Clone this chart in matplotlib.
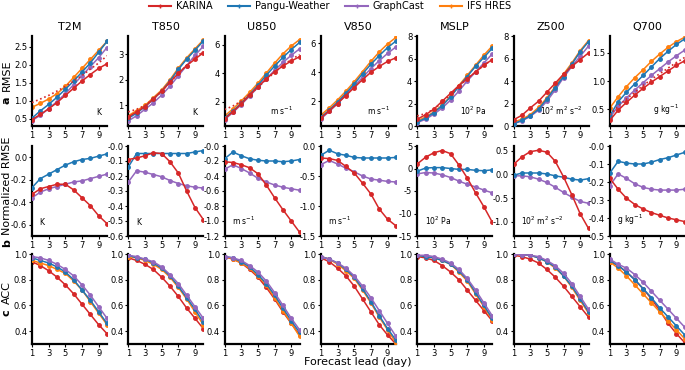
import numpy as np
import matplotlib.pyplot as plt

days = np.arange(1, 11)
variables = ["T2M", "T850", "U850", "V850", "MSLP", "Z500", "Q700"]
units = ["K", "K", "m s$^{-1}$", "m s$^{-1}$", "10$^2$ Pa", "10$^2$ m$^2$ s$^{-2}$", "g kg$^{-1}$"]
models = ["KARINA", "Pangu-Weather", "GraphCast", "IFS HRES"]
colors = {"KARINA": "#d62728", "Pangu-Weather": "#1f77b4", "GraphCast": "#9467bd", "IFS HRES": "#ff7f0e"}

# RMSE, one list per model, one row per variable
rmse_karina = [
    [0.48, 0.62, 0.78, 0.95, 1.15, 1.35, 1.55, 1.73, 1.9, 2.03],
    [0.55, 0.75, 0.95, 1.25, 1.55, 1.9, 2.25, 2.55, 2.8, 3.05],
    [0.8, 1.3, 1.85, 2.45, 3.05, 3.6, 4.1, 4.5, 4.85, 5.15],
    [0.85, 1.35, 1.85, 2.4, 2.95, 3.5, 4.0, 4.4, 4.75, 5.0],
    [0.6, 1.0, 1.5, 2.2, 2.9, 3.6, 4.2, 4.8, 5.4, 5.9],
    [0.55, 0.95, 1.6, 2.2, 3.0, 3.8, 4.6, 5.3, 5.9, 6.5],
    [0.3, 0.48, 0.62, 0.75, 0.87, 0.98, 1.08, 1.18, 1.28, 1.36],
]
rmse_karina_dotted = [
    [0.95, 1.05, 1.15, 1.27, 1.4, 1.55, 1.7, 1.88, 2.05, 2.25],
    [0.75, 0.85, 1.0, 1.25, 1.55, 1.9, 2.25, 2.55, 2.85, 3.1],
    [1.45, 1.7, 2.05, 2.5, 3.0, 3.55, 4.05, 4.55, 4.95, 5.3],
    None,
    [0.9, 1.1, 1.5, 2.1, 2.8, 3.5, 4.2, 4.8, 5.4, 5.9],
    None,
    [0.4, 0.55, 0.68, 0.8, 0.92, 1.03, 1.13, 1.23, 1.33, 1.42],
]
rmse_pangu = [
    [0.52, 0.72, 0.9, 1.1, 1.32, 1.55, 1.8, 2.05, 2.35, 2.65],
    [0.5, 0.7, 0.95, 1.25, 1.55, 1.95, 2.4, 2.8, 3.15, 3.5],
    [0.85, 1.35, 1.9, 2.5, 3.15, 3.85, 4.5, 5.1, 5.65, 6.15],
    [0.9, 1.4, 1.95, 2.55, 3.2, 3.9, 4.55, 5.15, 5.7, 6.15],
    [0.35, 0.7, 1.2, 1.8, 2.6, 3.5, 4.4, 5.3, 6.1, 6.9],
    [0.2, 0.5, 0.9, 1.5, 2.4, 3.4, 4.4, 5.5, 6.6, 7.5],
    [0.38, 0.63, 0.8, 0.95, 1.1, 1.25, 1.4, 1.53, 1.65, 1.75],
]
rmse_graphcast = [
    [0.45, 0.6, 0.78, 0.98, 1.2, 1.45, 1.7, 1.95, 2.2, 2.48],
    [0.4, 0.6, 0.85, 1.1, 1.4, 1.75, 2.15, 2.55, 2.95, 3.3],
    [0.75, 1.25, 1.8, 2.4, 3.0, 3.6, 4.2, 4.75, 5.25, 5.7],
    [0.8, 1.3, 1.85, 2.45, 3.05, 3.65, 4.25, 4.8, 5.3, 5.75],
    [0.3, 0.6, 1.05, 1.6, 2.3, 3.1, 4.0, 4.8, 5.6, 6.4],
    [0.2, 0.45, 0.85, 1.4, 2.2, 3.2, 4.3, 5.3, 6.2, 7.1],
    [0.35, 0.55, 0.7, 0.84, 0.97, 1.1, 1.22, 1.34, 1.45, 1.55],
]
rmse_ifs = [
    [0.82, 0.93, 1.05, 1.2, 1.4, 1.65, 1.9, 2.15, 2.4, 2.65],
    [0.6, 0.8, 1.0, 1.3, 1.6, 2.0, 2.45, 2.85, 3.2, 3.55],
    [1.0, 1.5, 2.05, 2.65, 3.3, 4.0, 4.7, 5.35, 5.9, 6.35],
    [1.05, 1.55, 2.1, 2.7, 3.35, 4.05, 4.75, 5.4, 5.95, 6.4],
    [0.45, 0.8, 1.25, 1.85, 2.65, 3.6, 4.5, 5.4, 6.3, 7.1],
    [0.35, 0.6, 1.0, 1.65, 2.5, 3.5, 4.6, 5.6, 6.7, 7.6],
    [0.52, 0.72, 0.9, 1.06, 1.2, 1.35, 1.48, 1.6, 1.7, 1.78],
]

# normalized RMSE (no IFS HRES)
nrmse_karina = [
    [-0.33, -0.28, -0.26, -0.24, -0.24, -0.29, -0.36, -0.43, -0.52, -0.59],
    [-0.09, -0.08, -0.065, -0.045, -0.05, -0.105, -0.18, -0.3, -0.41, -0.49],
    [-0.21, -0.22, -0.25, -0.29, -0.37, -0.52, -0.69, -0.85, -1.0, -1.15],
    [-0.2, -0.21, -0.24, -0.34, -0.45, -0.62, -0.8, -1.05, -1.22, -1.33],
    [1.0, 2.5, 3.5, 4.0, 3.3, 0.8, -2.1, -5.4, -8.5, -11.9],
    [0.21, 0.37, 0.48, 0.51, 0.47, 0.28, -0.05, -0.43, -0.83, -1.14],
    [-0.18, -0.24, -0.29, -0.325, -0.35, -0.37, -0.385, -0.4, -0.41, -0.42],
]
nrmse_pangu = [
    [-0.27, -0.19, -0.15, -0.11, -0.07, -0.04, -0.02, -0.01, 0.01, 0.03],
    [-0.14, -0.05, -0.05, -0.05, -0.05, -0.05, -0.05, -0.05, -0.04, -0.03],
    [-0.17, -0.08, -0.13, -0.17, -0.19, -0.2, -0.2, -0.21, -0.2, -0.18],
    [-0.155, -0.07, -0.13, -0.155, -0.19, -0.2, -0.2, -0.2, -0.2, -0.19],
    [-0.6, 0.1, 0.2, 0.2, 0.0, -0.2, -0.2, -0.4, -0.5, -0.3],
    [-0.02, 0.03, 0.03, 0.03, 0.01, -0.03, -0.06, -0.1, -0.12, -0.09],
    [-0.15, -0.085, -0.095, -0.1, -0.1, -0.09, -0.075, -0.065, -0.05, -0.035],
]
nrmse_graphcast = [
    [-0.36, -0.31, -0.28, -0.26, -0.24, -0.22, -0.21, -0.19, -0.17, -0.15],
    [-0.24, -0.165, -0.175, -0.19, -0.205, -0.23, -0.25, -0.265, -0.275, -0.28],
    [-0.31, -0.25, -0.3, -0.36, -0.43, -0.48, -0.52, -0.55, -0.57, -0.59],
    [-0.31, -0.24, -0.3, -0.37, -0.43, -0.5, -0.55, -0.57, -0.59, -0.6],
    [-1.2, -0.9, -1.0, -1.4, -2.0, -2.8, -3.5, -4.1, -4.8, -5.4],
    [-0.03, -0.03, -0.05, -0.1, -0.17, -0.27, -0.38, -0.48, -0.57, -0.61],
    [-0.22, -0.155, -0.18, -0.21, -0.23, -0.24, -0.245, -0.245, -0.245, -0.24],
]

# ACC
acc_karina = [
    [0.94, 0.91, 0.87, 0.82, 0.76, 0.69, 0.61, 0.53, 0.45, 0.38],
    [0.97, 0.95, 0.92, 0.88, 0.82, 0.75, 0.67, 0.58, 0.5, 0.42],
    [0.98, 0.96, 0.93, 0.88, 0.82, 0.74, 0.65, 0.55, 0.46, 0.37],
    [0.97, 0.94, 0.89, 0.83, 0.75, 0.65, 0.55, 0.45, 0.37, 0.3],
    [0.98, 0.97, 0.95, 0.91, 0.86, 0.8, 0.72, 0.64, 0.56, 0.48],
    [0.99, 0.98, 0.96, 0.93, 0.88, 0.82, 0.75, 0.67, 0.59, 0.51],
    [0.94, 0.91, 0.86, 0.8, 0.73, 0.65, 0.56, 0.46, 0.38, 0.31],
]
acc_pangu = [
    [0.97, 0.95, 0.93, 0.9, 0.86, 0.8, 0.72, 0.64, 0.55, 0.46],
    [0.99, 0.97, 0.96, 0.93, 0.89, 0.83, 0.75, 0.66, 0.57, 0.47],
    [0.98, 0.97, 0.94, 0.9, 0.84, 0.77, 0.68, 0.58, 0.48, 0.39],
    [0.98, 0.96, 0.93, 0.88, 0.82, 0.73, 0.63, 0.52, 0.42, 0.33],
    [0.99, 0.98, 0.97, 0.95, 0.92, 0.87, 0.8, 0.7, 0.6, 0.5],
    [1.0, 0.995, 0.99, 0.97, 0.94, 0.9, 0.83, 0.75, 0.65, 0.55],
    [0.95, 0.91, 0.86, 0.8, 0.73, 0.66, 0.58, 0.51, 0.44, 0.37],
]
acc_graphcast = [
    [0.98, 0.97, 0.95, 0.92, 0.88, 0.83, 0.76, 0.68, 0.59, 0.5],
    [0.99, 0.98, 0.96, 0.94, 0.9, 0.84, 0.77, 0.68, 0.59, 0.5],
    [0.98, 0.97, 0.95, 0.91, 0.86, 0.79, 0.7, 0.6, 0.5, 0.41],
    [0.98, 0.96, 0.93, 0.89, 0.83, 0.75, 0.66, 0.56, 0.46, 0.36],
    [0.99, 0.99, 0.98, 0.96, 0.93, 0.88, 0.81, 0.72, 0.62, 0.52],
    [1.0, 0.995, 0.99, 0.98, 0.95, 0.91, 0.85, 0.77, 0.67, 0.57],
    [0.96, 0.92, 0.89, 0.84, 0.78, 0.71, 0.64, 0.57, 0.5, 0.43],
]
acc_ifs = [
    [0.95, 0.93, 0.91, 0.88, 0.85, 0.79, 0.72, 0.63, 0.54, 0.45],
    [0.98, 0.97, 0.95, 0.92, 0.88, 0.82, 0.74, 0.65, 0.55, 0.45],
    [0.98, 0.96, 0.93, 0.89, 0.83, 0.76, 0.66, 0.56, 0.46, 0.36],
    [0.98, 0.96, 0.92, 0.87, 0.81, 0.72, 0.62, 0.51, 0.41, 0.31],
    [0.99, 0.98, 0.97, 0.95, 0.92, 0.86, 0.79, 0.69, 0.59, 0.49],
    [1.0, 0.995, 0.99, 0.97, 0.94, 0.89, 0.83, 0.74, 0.64, 0.54],
    [0.94, 0.89, 0.83, 0.76, 0.69, 0.62, 0.55, 0.48, 0.41, 0.34],
]

rmse_ylims = [(0.3, 2.8), (0.2, 3.7), (0.3, 6.6), (0.3, 6.5), (0, 8), (0, 8), (0.2, 1.8)]
rmse_ticks = [[0.5, 1.0, 1.5, 2.0, 2.5], [1, 2, 3], [2, 4, 6], [2, 4, 6], [0, 2, 4, 6, 8], [0, 2, 4, 6, 8], [0.5, 1.0, 1.5]]
nrmse_ylims = [(-0.7, 0.1), (-0.6, 0.0), (-1.2, 0.0), (-1.5, 0.0), (-15, 5), (-1.3, 0.6), (-0.5, 0.0)]
nrmse_ticks = [[-0.6, -0.4, -0.2, 0.0], np.arange(-0.6, 0.01, 0.1), np.arange(-1.2, 0.01, 0.2),
               [-1.5, -1.0, -0.5, 0.0], [-15, -10, -5, 0, 5], [-1.0, -0.5, 0.0, 0.5], np.arange(-0.5, 0.01, 0.1)]

plt.rcParams["font.family"] = "DejaVu Sans"
fig = plt.figure(figsize=(6.85, 3.7), dpi=100)

W, H = 685.0, 370.0
left0, pitch, aw = 32, 96.3, 75
row_tops = [36, 146, 254]
ah = 90


def style(ax):
    for s in ["top", "right"]:
        ax.spines[s].set_visible(False)
    ax.spines["left"].set_linewidth(1.6)
    ax.spines["bottom"].set_linewidth(1.6)
    ax.tick_params(labelsize=6, length=2, width=0.8, pad=1.5)
    ax.set_xlim(1, 10)
    ax.set_xticks([1, 3, 5, 7, 9])


def line(ax, y, name, z, ls="-", marker="o"):
    ax.plot(days, y, color=colors[name], ls=ls, lw=1.1, marker=marker, ms=2.5, zorder=z)


axes = []
for r in range(3):
    row = []
    for c in range(7):
        x0 = left0 + c * pitch
        ax = fig.add_axes([x0 / W, 1 - (row_tops[r] + ah) / H, aw / W, ah / H])
        style(ax)
        row.append(ax)
    axes.append(row)

for c in range(7):
    ax = axes[0][c]
    ax.set_title(variables[c], fontsize=8, pad=4)
    line(ax, rmse_ifs[c], "IFS HRES", 2)
    line(ax, rmse_graphcast[c], "GraphCast", 3)
    line(ax, rmse_pangu[c], "Pangu-Weather", 4)
    line(ax, rmse_karina[c], "KARINA", 5)
    if rmse_karina_dotted[c] is not None:
        ax.plot(days, rmse_karina_dotted[c], color=colors["KARINA"], ls=":", lw=1.2, zorder=5)
    ax.set_ylim(*rmse_ylims[c])
    ax.set_yticks(rmse_ticks[c])
    ax.text(0.92, 0.1, units[c], transform=ax.transAxes, ha="right", va="bottom", fontsize=5.5)

    ax = axes[1][c]
    line(ax, nrmse_graphcast[c], "GraphCast", 3)
    line(ax, nrmse_pangu[c], "Pangu-Weather", 4)
    line(ax, nrmse_karina[c], "KARINA", 5)
    ax.set_ylim(*nrmse_ylims[c])
    ax.set_yticks(nrmse_ticks[c])
    ax.text(0.1, 0.1, units[c], transform=ax.transAxes, ha="left", va="bottom", fontsize=5.5)

    ax = axes[2][c]
    line(ax, acc_karina[c], "KARINA", 2)
    line(ax, acc_ifs[c], "IFS HRES", 3)
    line(ax, acc_pangu[c], "Pangu-Weather", 4)
    line(ax, acc_graphcast[c], "GraphCast", 5)
    ax.set_ylim(0.3, 1.0)
    ax.set_yticks([0.4, 0.6, 0.8, 1.0])

for ax in axes[1]:
    ax.yaxis.set_major_formatter(plt.FormatStrFormatter("%.1f"))
axes[1][4].yaxis.set_major_formatter(plt.FormatStrFormatter("%d"))

# row labels: bold letter below the rotated name
for name, yc in [("RMSE", 75), ("Normalized RMSE", 186), ("ACC", 293)]:
    fig.text(7 / W, 1 - yc / H, name, rotation=90, ha="center", va="center", fontsize=8)
for lab, yc in [("a", 100), ("b", 243), ("c", 313)]:
    fig.text(7 / W, 1 - yc / H, lab, rotation=90, ha="center", va="center", fontsize=8, fontweight="bold")

fig.text(358 / W, 1 - 362 / H, "Forecast lead (day)", ha="center", va="center", fontsize=8)

handles = [plt.Line2D([], [], color=colors[m], lw=1.5, marker="+", ms=3) for m in models]
fig.legend(handles, models, loc="center", bbox_to_anchor=(330 / W, 1 - 6 / H), ncol=4,
           frameon=False, fontsize=7, handlelength=2.3, columnspacing=1.6, borderpad=0, handletextpad=0.5)

fig.savefig("out.png", dpi=100)
